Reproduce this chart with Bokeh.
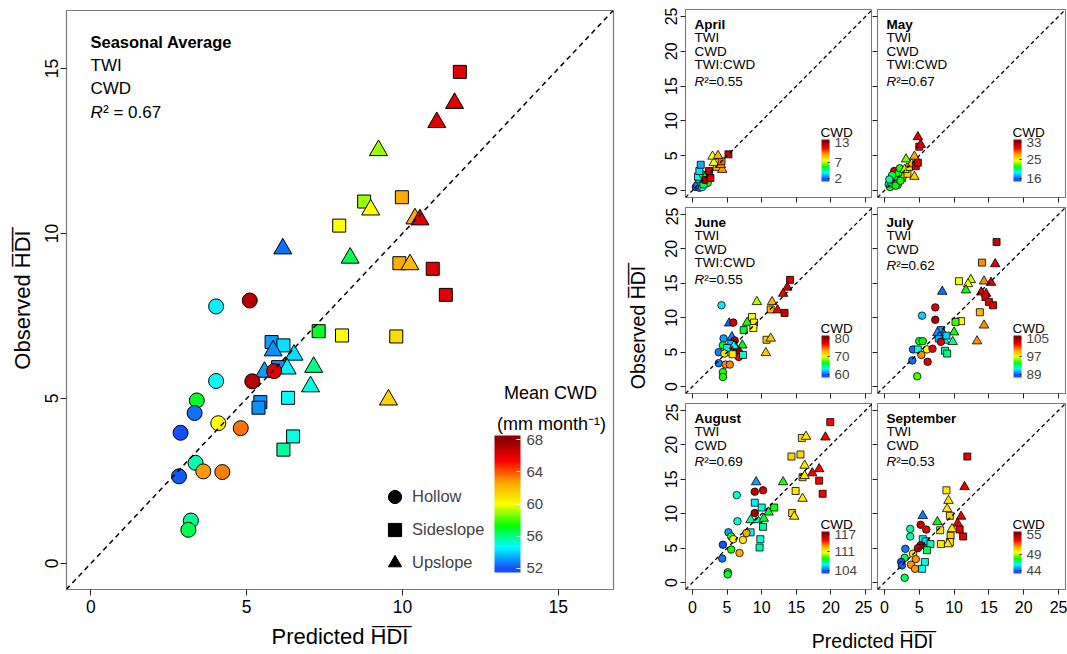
import numpy as np
from bokeh.plotting import figure
from bokeh.models import (ColumnDataSource, Range1d, FixedTicker, Slope, LinearColorMapper,
                          ColorBar, Label, Legend, LegendItem)
from bokeh.layouts import row, column
from bokeh.transform import transform
from bokeh.embed import file_html
from bokeh.resources import INLINE

FONT = "Liberation Sans"
OVL = "H\u0305D\u0305I\u0305"

# ---------------- main panel data (seasonal average) ----------------
main_x = [11.84, 11.67, 11.10, 9.23, 8.77, 8.98, 9.98, 10.40, 10.56, 7.97, 6.16, 8.32, 9.90, 10.24,
          10.97, 11.39, 4.02, 5.10, 7.31, 8.06, 9.80, 5.80, 6.18, 5.85, 6.52, 7.15, 6.01, 6.30, 5.57,
          5.88, 5.18, 4.02, 7.05, 9.55, 6.33, 5.44, 5.38, 3.40, 3.33, 4.09, 4.81, 2.88, 6.49, 6.18,
          3.36, 3.61, 4.22, 2.83, 3.21, 3.13]
main_y = [14.90, 13.95, 13.37, 12.52, 10.97, 10.72, 11.10, 10.45, 10.42, 10.24, 9.54, 9.26, 9.10, 9.06,
          8.93, 8.14, 7.79, 7.97, 7.04, 6.91, 6.88, 6.71, 6.61, 6.45, 6.32, 5.95, 5.95, 5.90, 5.80,
          5.83, 5.52, 5.53, 5.36, 4.96, 5.02, 4.89, 4.72, 4.94, 4.56, 4.25, 4.10, 3.96, 3.85, 3.45,
          3.05, 2.79, 2.77, 2.64, 1.30, 1.02]
main_shape = "s u u u s u s u u s u u s u s s h h s s s s s u u u s u u h h h u u s s s h h h h h s s h h h h h h".split()
main_cwd = [66, 66, 66, 59, 59, 60, 62.5, 62.5, 66, 60, 52.5, 56.5, 62.5, 62, 66, 66, 54.5, 67, 57, 60,
            61, 53.2, 54.2, 53, 54.2, 56, 53, 54.5, 53.2, 66, 67, 54.7, 55, 61.3, 54.7, 53, 53, 57,
            52.5, 60, 63.5, 52, 55, 55.7, 55.5, 62.8, 63.3, 52.2, 55.8, 56.5]
main_ticks = [0, 5, 10, 15]
main_cwd_ticks = [52, 56, 60, 64, 68]
main_terms = ["TWI", "CWD"]
main_r2 = "0.67"
legend_labels = ["Hollow", "Sideslope", "Upslope"]

# ---------------- monthly panels ----------------
month_ticks = [0, 5, 10, 15, 20, 25]

apr_x = [0.5, 1.0, 0.7, 1.4, 1.2, 0.9, 0.8, 2.2, 1.6, 1.5, 2.0, 1.8, 1.0, 1.2, 2.6, 2.4, 3.5, 3.1, 2.9, 4.3, 4.1, 4.2, 3.7, 5.2]
apr_y = [0.5, 0.4, 0.8, 0.5, 1.2, 1.6, 2.0, 1.1, 0.9, 2.3, 2.2, 1.5, 2.8, 3.7, 1.8, 2.8, 3.4, 4.0, 4.9, 3.0, 3.7, 4.2, 5.0, 5.2]
apr_shape = "h h h h h h s h s h u h s s s s s u u u u s u s".split()
apr_cwd = [2, 2.3, 2.5, 4, 6, 3, 4, 6, 5, 5.5, 6, 12.5, 3.5, 3, 12, 12, 9, 7.5, 7.5, 9.5, 9.5, 10, 9, 12]

may_x = [0.6, 0.8, 1.0, 1.9, 1.2, 1.8, 1.5, 2.5, 2.7, 1.4, 2.0, 2.2, 3.3, 2.9, 3.6, 4.3, 3.1, 3.9, 4.5, 4.8, 4.3, 5.0, 5.2, 4.8, 1.1, 0.7, 1.6, 2.3]
may_y = [0.9, 0.5, 1.0, 0.8, 1.5, 1.2, 2.0, 1.8, 2.1, 2.8, 2.5, 3.2, 2.4, 3.0, 3.4, 2.0, 4.5, 3.8, 3.5, 4.0, 4.9, 6.3, 6.6, 7.7, 2.2, 1.6, 0.7, 1.4]
may_shape = "h h h h h h h s h h h h s u s u u u s s u s u u h h h h".split()
may_cwd = [19, 22, 20, 22.5, 21.5, 22, 21, 23, 23, 31, 22, 22, 26, 24, 25, 26, 23, 26, 31, 31, 27, 31, 31, 31, 21, 20, 21.5, 22]

jun_x = [14.1, 13.7, 13.1, 11.5, 9.3, 11.3, 12.3, 13.3, 8.6, 8.9, 7.9, 8.8, 7.4, 10.7, 11.3, 10.6, 4.2, 5.3, 5.9, 4.5,
         5.7, 6.1, 4.4, 7.2, 3.8, 5.3, 6.7, 6.7, 3.8, 4.8, 5.4, 4.4, 4.4, 5.6, 6.2, 5.0, 6.5, 5.8, 7.3, 6.0, 4.6]
jun_y = [15.5, 14.4, 13.5, 12.3, 12.3, 11.2, 11.1, 10.7, 10.1, 9.3, 9.3, 8.5, 8.2, 6.8, 7.0, 4.9, 11.8, 9.2, 9.3, 7.0,
         7.2, 6.7, 6.0, 6.0, 5.0, 5.0, 4.8, 4.3, 3.4, 3.2, 3.2, 2.1, 1.4, 6.2, 5.8, 5.6, 5.3, 4.7, 4.6, 5.9, 4.8]
jun_shape = "s u u u u s u s s s u s s s u u h u h h u h h u h s s h h h h h h s u s h s s u h".split()
jun_cwd = [78, 78, 77, 73, 69, 73, 77, 78, 70, 70.5, 67, 70, 66, 72, 72, 72, 63, 60.5, 78, 61.5,
           61, 79, 66.5, 66.5, 61, 70, 64, 77, 61, 74, 74, 67, 67, 62, 62, 63, 79.5, 70.5, 64, 63.5, 71]

jul_x = [14.0, 15.9, 10.7, 12.4, 12.0, 11.7, 14.3, 15.3, 13.9, 14.6, 14.5, 15.0, 15.6, 13.7, 14.3, 13.3, 8.3, 7.3, 5.4, 7.3,
         11.0, 10.2, 10.0, 9.8, 8.1, 8.5, 7.8, 8.6, 8.1, 5.0, 5.5, 4.1, 4.8, 6.1, 6.9, 8.7, 9.0, 5.3, 4.0, 6.2, 4.7, 8.9, 7.6, 16.1]
jul_y = [18.0, 17.8, 15.3, 15.5, 14.9, 14.0, 15.3, 15.1, 13.7, 13.5, 13.0, 12.3, 11.8, 10.8, 8.9, 6.6, 13.8, 11.5, 10.3, 9.7,
         9.5, 9.4, 7.9, 6.5, 8.2, 7.6, 7.0, 6.7, 6.5, 6.6, 6.6, 5.4, 5.4, 5.4, 5.5, 5.2, 4.8, 4.6, 3.8, 3.6, 1.5, 7.4, 7.8, 21.0]
jul_shape = "s u s u u u u u u u s s s s u u u h h h s s u u s u s u h h h h s h h s s h h h h s u s".split()
jul_cwd = [100, 103, 97, 96.5, 97, 94.5, 100, 103, 103, 103, 103, 103, 103, 99, 100, 100, 89.5, 103, 91, 104,
           97, 95, 94.5, 93, 90, 90, 90.5, 92, 103, 94, 94.5, 89.5, 92, 97, 103, 92.5, 93, 100, 89.5, 103, 95, 91, 90, 103.5]

aug_x = [15.8, 16.4, 19.2, 19.9, 14.3, 15.6, 16.2, 15.9, 16.2, 17.3, 18.3, 18.3, 18.8, 14.9, 15.9, 14.4, 14.7, 13.1, 9.2, 9.0,
         10.2, 6.4, 9.0, 10.0, 11.8, 11.0, 9.0, 8.4, 9.4, 10.3, 10.2, 6.5, 5.2, 8.4, 7.8, 5.6, 5.9, 7.3, 9.8, 4.4,
         5.6, 6.8, 9.7, 4.3, 5.1, 5.1]
aug_y = [21.0, 21.2, 21.1, 23.3, 18.3, 18.6, 17.0, 15.3, 15.5, 15.9, 16.5, 14.8, 12.9, 13.3, 12.2, 10.1, 9.6, 14.6, 14.6, 13.2,
         13.4, 12.7, 11.6, 10.9, 10.9, 10.2, 10.1, 9.1, 9.1, 9.3, 8.1, 8.9, 7.3, 7.3, 7.2, 6.7, 6.3, 6.2, 6.3, 5.5,
         4.8, 4.3, 5.1, 3.5, 1.5, 1.2]
aug_shape = "s u u s s s u s u u u s s s u s u u u h h h s s s u h u u u s h h s h h h h s h h h s h h h".split()
aug_cwd = [111.5, 111, 115, 115, 111.5, 111.5, 111, 111.5, 111, 115, 115, 115, 115, 111, 111, 111.5, 111, 108.5, 105, 116,
           115.5, 106.5, 106, 106.5, 108.5, 108, 116.5, 107, 107, 108, 107, 106.5, 105, 106, 112.5, 108.5, 110.5, 111, 106.5, 104,
           108.5, 112.5, 107, 104.5, 108.5, 108]

sep_x = [11.9, 11.5, 8.9, 9.2, 9.0, 9.4, 11.0, 10.5, 10.8, 11.3, 9.7, 9.5, 9.4, 9.1, 8.1, 5.5, 7.6, 8.0, 5.2, 6.0,
         3.7, 3.7, 5.5, 6.2, 5.9, 5.2, 6.6, 6.1, 3.0, 4.1, 2.9, 4.5, 3.8, 4.4, 2.4, 2.5, 5.8, 5.4, 2.9, 4.8]
sep_y = [18.3, 13.9, 13.4, 11.9, 10.7, 9.7, 9.6, 8.6, 7.7, 6.7, 7.8, 6.8, 5.9, 5.6, 5.6, 9.7, 8.8, 7.6, 8.4, 7.7,
         7.8, 6.7, 6.3, 5.7, 6.0, 5.4, 5.6, 4.7, 4.9, 4.2, 3.6, 3.4, 2.6, 2.0, 3.0, 2.5, 3.0, 2.0, 0.7, 5.0]
sep_shape = "s u s u u s u u s s u s s u s u u s h h h h s u s h s s h h h h h h h h s s h h".split()
sep_cwd = [53.5, 53.5, 50, 50, 50, 50.5, 53.5, 53.5, 53.5, 53.5, 50, 50.5, 50, 50, 50, 44.5, 47.5, 50, 54, 53.5,
           46.5, 46.5, 46, 46.5, 45.5, 54.5, 46.5, 47, 44.5, 50, 47, 51.5, 51.5, 51.5, 44, 44.2, 46, 46, 47, 54]

months = ["April", "May", "June", "July", "August", "September"]
month_terms = [["TWI", "CWD", "TWI:CWD"], ["TWI", "CWD", "TWI:CWD"], ["TWI", "CWD", "TWI:CWD"],
               ["TWI", "CWD"], ["TWI", "CWD"], ["TWI", "CWD"]]
month_r2 = ["0.55", "0.67", "0.55", "0.62", "0.69", "0.53"]
month_cwd_ticks = [[2, 7, 13], [16, 25, 33], [60, 70, 80], [89, 97, 105], [104, 111, 117], [44, 49, 55]]
month_data = [(apr_x, apr_y, apr_shape, apr_cwd), (may_x, may_y, may_shape, may_cwd),
              (jun_x, jun_y, jun_shape, jun_cwd), (jul_x, jul_y, jul_shape, jul_cwd),
              (aug_x, aug_y, aug_shape, aug_cwd), (sep_x, sep_y, sep_shape, sep_cwd)]

# ---------------- helpers ----------------
ANCHORS = ["#1450ff", "#00ffff", "#00ff00", "#ffff00", "#ffa500", "#ff0000", "#8b0000"]
MARKERS = {"h": "circle", "s": "square", "u": "triangle"}


def ramp_mapper(lo, hi, ext):
    low = lo - ext * (hi - lo)
    high = hi + ext * (hi - lo)
    rgb = np.array([[int(c[i:i + 2], 16) for i in (1, 3, 5)] for c in ANCHORS], float)
    pos = np.linspace(lo, hi, len(ANCHORS))
    vals = np.linspace(low, high, 256)
    cols = np.stack([np.interp(vals, pos, rgb[:, k]) for k in range(3)], axis=1)
    pal = ["#%02x%02x%02x" % tuple(int(round(v)) for v in c) for c in cols]
    return LinearColorMapper(palette=pal, low=low, high=high)


def add_points(p, xs, ys, shapes, cwd, mapper, sizes, lw):
    src = ColumnDataSource(dict(x=xs, y=ys, marker=[MARKERS[s] for s in shapes],
                                size=[sizes[s] for s in shapes], cwd=cwd))
    p.scatter("x", "y", source=src, marker="marker", size="size",
              fill_color=transform("cwd", mapper), line_color="black", line_width=lw)


def add_text(p, text, x, y, size, style="normal", align="left", baseline="alphabetic", angle=0.0):
    p.add_layout(Label(x=x, y=y, x_units="screen", y_units="screen", text=text,
                       text_font=FONT, text_font_size=f"{size}px", text_font_style=style,
                       text_align=align, text_baseline=baseline, text_color="black", angle=angle))


def style_axis(ax, ticks, size, show, tick_len, standoff, orient="horizontal"):
    ax.ticker = FixedTicker(ticks=ticks)
    ax.minor_tick_line_color = None
    ax.axis_line_color = None
    ax.major_tick_out = tick_len
    ax.major_tick_in = 0
    ax.major_tick_line_color = "#222222"
    ax.major_label_text_font = FONT
    ax.major_label_orientation = orient
    if show:
        ax.major_label_text_color = "black"
        ax.major_label_text_font_size = f"{size}px"
        ax.major_label_standoff = standoff
    else:
        ax.major_label_text_color = None
        ax.major_label_text_font_size = "1px"
        ax.major_label_standoff = 0


def strip(w, h, **borders):
    p = figure(width=w, height=h, x_range=Range1d(0, 1), y_range=Range1d(0, 1), min_border=0,
               x_axis_location=None, y_axis_location=None, output_backend="svg", toolbar_location=None,
               **borders)
    p.grid.visible = False
    p.outline_line_color = None
    return p


# ---------------- main figure ----------------
main = figure(width=620, height=654, x_range=Range1d(-0.78, 16.77), y_range=Range1d(-0.79, 16.76),
              min_border_left=66, min_border_right=7, min_border_top=10, min_border_bottom=65,
              output_backend="svg", toolbar_location=None)
main.grid.visible = False
main.outline_line_color = "#7a7a7a"
main.outline_line_width = 1.2
style_axis(main.xaxis[0], main_ticks, 17.5, True, 6, 4)
style_axis(main.yaxis[0], main_ticks, 17.5, True, 6, 2, "parallel")
for ax, lab in ((main.xaxis[0], "Predicted " + OVL), (main.yaxis[0], "Observed " + OVL)):
    ax.axis_label = lab
    ax.axis_label_text_font = FONT
    ax.axis_label_text_font_size = "22px"
    ax.axis_label_text_font_style = "normal"
    ax.axis_label_text_color = "black"
    ax.axis_label_standoff = 8

main.add_layout(Slope(gradient=1, y_intercept=0, line_color="black", line_dash="5 4", line_width=1.5))
main_mapper = ramp_mapper(main_cwd_ticks[0], main_cwd_ticks[-1], 0.032)
add_points(main, main_x, main_y, main_shape, main_cwd, main_mapper, {"h": 15, "s": 13, "u": 18}, 1.0)

add_text(main, "Seasonal Average", 24, 548, 16.5, "bold")
add_text(main, main_terms[0], 24, 524, 17)
add_text(main, main_terms[1], 24, 501, 17)
add_text(main, "R", 24, 477, 17, "italic")
add_text(main, "\u00b2 = " + main_r2, 36.5, 477, 17)

legend_rs = [main.scatter(x=[np.nan], y=[np.nan], marker=m, color="black")
             for m in ("circle", "square", "triangle")]
leg = Legend(items=[LegendItem(label=l, renderers=[r]) for l, r in zip(legend_labels, legend_rs)],
             location=(311, 10), glyph_width=35, glyph_height=33, spacing=0, padding=0, margin=0,
             label_standoff=0, border_line_color=None, background_fill_color=None,
             label_text_font=FONT, label_text_font_size="16.5px")
main.add_layout(leg)

cb = ColorBar(color_mapper=main_mapper, ticker=FixedTicker(ticks=main_cwd_ticks), width=26, height=137,
              location=(428, 17), padding=0, margin=0, label_standoff=6,
              major_label_text_font=FONT, major_label_text_font_size="15px",
              major_tick_line_color="white", major_tick_in=4, major_tick_out=0,
              minor_tick_line_color=None, bar_line_color=None, border_line_color=None,
              background_fill_color=None)
main.add_layout(cb)
add_text(main, "Mean CWD", 484, 197, 18, align="center")
add_text(main, "(mm month\u207b\u00b9)", 485, 166, 18, align="center")


# ---------------- monthly figures ----------------
def month_fig(i, top, frame_h, bottom, left, frame_w, right, show_x, show_y):
    xs, ys, shapes, cwd = month_data[i]
    p = figure(width=left + frame_w + right, height=top + frame_h + bottom,
               x_range=Range1d(-1, 26), y_range=Range1d(-1, 26),
               min_border_left=left, min_border_right=right, min_border_top=top, min_border_bottom=bottom,
               output_backend="svg", toolbar_location=None)
    p.grid.visible = False
    p.outline_line_color = "#7a7a7a"
    p.outline_line_width = 1.1
    style_axis(p.xaxis[0], month_ticks, 16, show_x, 5, 6)
    style_axis(p.yaxis[0], month_ticks, 16, show_y, 5, 3, "parallel")
    p.add_layout(Slope(gradient=1, y_intercept=0, line_color="black", line_dash="4 3", line_width=1.3))
    ticks = month_cwd_ticks[i]
    mapper = ramp_mapper(ticks[0], ticks[-1], 0.07)
    add_points(p, xs, ys, shapes, cwd, mapper, {"h": 7.5, "s": 7, "u": 9.5}, 0.8)
    lines = [months[i]] + month_terms[i]
    b = 14.5
    for k, t in enumerate(lines):
        add_text(p, t, 9, frame_h - b, 13.5, "bold" if k == 0 else "normal")
        b += 13.5
    b += 3
    add_text(p, "R", 9, frame_h - b, 13.5, "italic")
    add_text(p, "\u00b2=" + month_r2[i], 18.7, frame_h - b, 13.5)
    mcb = ColorBar(color_mapper=mapper, ticker=FixedTicker(ticks=ticks), width=8, height=42,
                   location=(136, 16), padding=0, margin=0, label_standoff=5,
                   major_label_text_font=FONT, major_label_text_font_size="13.5px",
                   major_tick_line_color="#660000", major_tick_in=2, major_tick_out=0,
                   minor_tick_line_color=None, bar_line_color=None, border_line_color=None,
                   background_fill_color=None)
    p.add_layout(mcb)
    add_text(p, "CWD", 135, 65, 13.5)
    return p


apr = month_fig(0, 9, 188, 10, 35, 187, 0, False, True)
may = month_fig(1, 9, 188, 10, 5, 188, 2, False, False)
jun = month_fig(2, 0, 186, 10, 35, 187, 0, False, True)
jul = month_fig(3, 0, 186, 10, 5, 188, 2, False, False)
aug = month_fig(4, 0, 186, 34, 35, 187, 0, True, True)
sep = month_fig(5, 0, 186, 34, 5, 188, 2, True, False)

# shared axis titles for the monthly grid
vstrip = strip(30, 654, min_border_top=10, min_border_bottom=65)
add_text(vstrip, "Observed " + OVL, 17, 262, 19.5, align="center", baseline="middle", angle=np.pi / 2)
hstrip = strip(417, 31)
add_text(hstrip, "Predicted " + OVL, 222, 14, 19.5, align="center", baseline="middle")

right = column(row(apr, may), row(jun, jul), row(aug, sep), hstrip)
layout = row(main, vstrip, right)

open("out.html", "w").write(file_html(layout, INLINE))
